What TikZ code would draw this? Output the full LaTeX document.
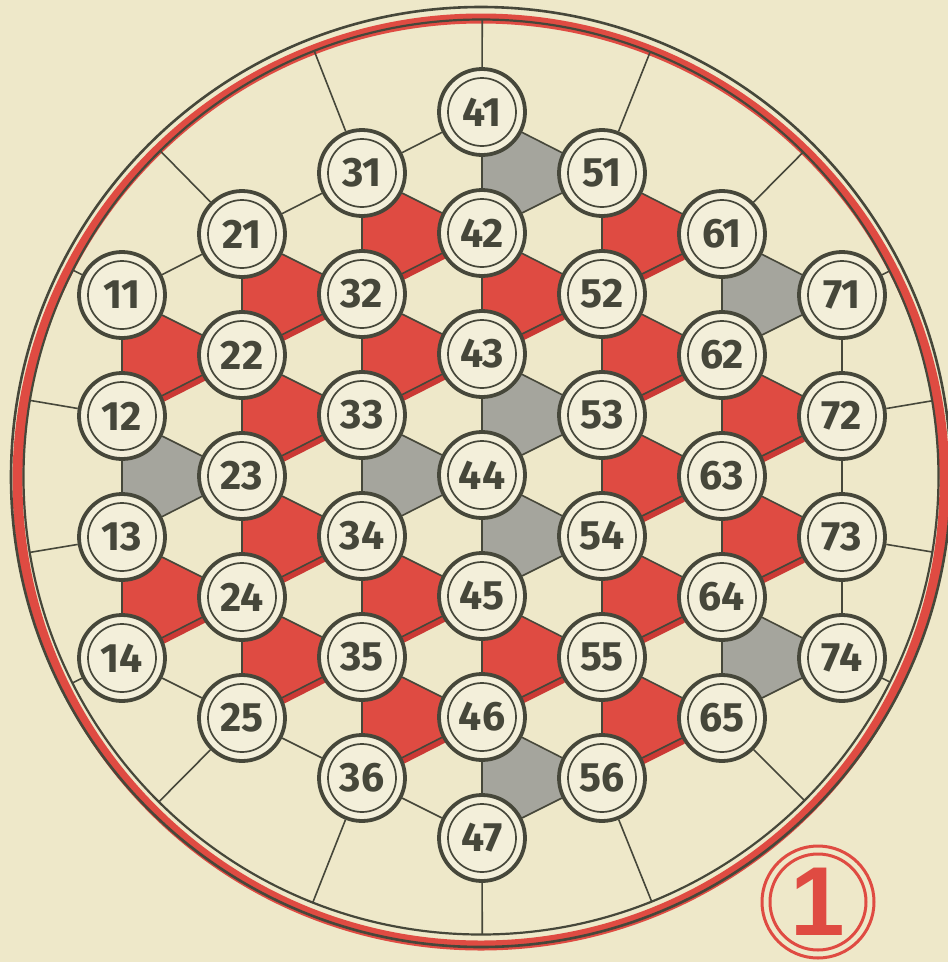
\documentclass[tikz,border=0pt]{standalone}
\usepackage{fontspec}
\usetikzlibrary{calc}
\newfontfamily\numfont{Fira Sans}
\newfontfamily\labfont{Liberation Sans}
\definecolor{cream}{HTML}{EEE8C9}
\definecolor{nodefill}{HTML}{F3EFDA}
\definecolor{ink}{HTML}{46473A}
\definecolor{hexred}{HTML}{DF4B42}
\definecolor{hexredshadow}{HTML}{CB3934}
\definecolor{hexgray}{HTML}{A5A59D}
\pgfdeclarelayer{bg}
\pgfdeclarelayer{mid}
\pgfsetlayers{bg,mid,main}
\def\hexcut{44pt}
\newcommand{\hexshape}[3]{($(n#1.center)!\hexcut!(n#2.center)$) -- ($(n#2.center)!\hexcut!(n#1.center)$) -- ($(n#2.center)!\hexcut!(n#3.center)$) -- ($(n#3.center)!\hexcut!(n#2.center)$) -- ($(n#3.center)!\hexcut!(n#1.center)$) -- ($(n#1.center)!\hexcut!(n#3.center)$) -- cycle}
\begin{document}
\begin{tikzpicture}[x=1pt,y=-1pt,
  numnode/.style={circle, minimum size=86pt, inner sep=0pt, line width=3.8pt,
    draw=ink, fill=nodefill, text=ink,
    font=\numfont\bfseries\fontsize{41}{41}\selectfont,
    path picture={\draw[ink, line width=1.7pt] (path picture bounding box.center) circle[radius=34pt];}},
  edge/.style={draw=ink, line width=1.6pt},
  labnode/.style={circle, minimum size=112pt, inner sep=0pt, line width=3pt,
    draw=hexred, text=hexred, font=\labfont\bfseries\fontsize{98}{98}\selectfont,
    path picture={\draw[hexred, line width=3pt] (path picture bounding box.center) circle[radius=48pt];}}
]
\begin{pgfonlayer}{bg}
\fill[cream] (0,0) rectangle (948,962);
\end{pgfonlayer}
\useasboundingbox (0,0) rectangle (948,962);
\coordinate (ctr) at (481,477);
\coordinate (rctr) at (481,482);

% numbered nodes
\foreach \col/\nr/\ytop in {1/4/295,2/5/234,3/6/173,4/7/112,5/6/173,6/5/234,7/4/295} {
  \foreach \row in {1,...,\nr} {
    \node[numnode] (n\col\row) at ({122+120*(\col-1)},{\ytop+121*(\row-1)}) {\col\row};
  }
}

% label
\node[labnode] (lab) at (818,902) {1};

\begin{pgfonlayer}{bg}
\draw[hexred, line width=10pt] (rctr) circle[radius=463.5pt];
\draw[ink, line width=2.2pt] (ctr) circle[radius=457.5pt];
\draw[ink, line width=2.6pt] (ctr) circle[radius=470pt];
\end{pgfonlayer}

\begin{pgfonlayer}{mid}
% red shapes with offset shadow
\begin{scope}[transform canvas={xshift=2pt, yshift=-6pt}]
\foreach \a/\b/\cc in {11/12/22,13/14/24,21/22/32,22/23/33,23/24/34,24/25/35,31/32/42,32/33/43,34/35/45,35/36/46,42/43/52,45/46/55,51/52/61,52/53/62,53/54/63,54/55/64,55/56/65,62/63/72,63/64/73} {
  \fill[hexredshadow] \hexshape{\a}{\b}{\cc};
}
\end{scope}
\foreach \a/\b/\cc in {11/12/22,13/14/24,21/22/32,22/23/33,23/24/34,24/25/35,31/32/42,32/33/43,34/35/45,35/36/46,42/43/52,45/46/55,51/52/61,52/53/62,53/54/63,54/55/64,55/56/65,62/63/72,63/64/73} {
  \fill[hexred] \hexshape{\a}{\b}{\cc};
}
\foreach \a/\b/\cc in {12/13/23,33/34/44,41/42/51,43/44/53,44/45/54,46/47/56,61/62/71,64/65/74} {
  \fill[hexgray] \hexshape{\a}{\b}{\cc};
}
% vertical edges
\foreach \col/\nr in {1/4,2/5,3/6,4/7,5/6,6/5,7/4} {
  \foreach \row in {2,...,\nr} {
    \pgfmathtruncatemacro\prv{\row-1}
    \draw[edge] (n\col\prv) -- (n\col\row);
  }
}
% diagonal edges, left half
\foreach \col/\nr in {1/4,2/5,3/6} {
  \pgfmathtruncatemacro\nxt{\col+1}
  \foreach \row in {1,...,\nr} {
    \pgfmathtruncatemacro\rs{\row+1}
    \draw[edge] (n\col\row) -- (n\nxt\row);
    \draw[edge] (n\col\row) -- (n\nxt\rs);
  }
}
% diagonal edges, right half
\foreach \col/\nr in {4/7,5/6,6/5} {
  \pgfmathtruncatemacro\nxt{\col+1}
  \foreach \row in {1,...,\nr} {
    \pgfmathtruncatemacro\rs{\row-1}
    \ifnum\row<\nr \draw[edge] (n\col\row) -- (n\nxt\row); \fi
    \ifnum\row>1 \draw[edge] (n\col\row) -- (n\nxt\rs); \fi
  }
}
% spokes to the rim
\foreach \s in {11,12,13,14,21,25,31,36,41,47,51,56,61,65,71,72,73,74} {
  \coordinate (s\s) at ($(ctr)!457.5pt!(n\s.center)$);
  \draw[edge] (n\s) -- (s\s);
}
\end{pgfonlayer}
\end{tikzpicture}
\end{document}
